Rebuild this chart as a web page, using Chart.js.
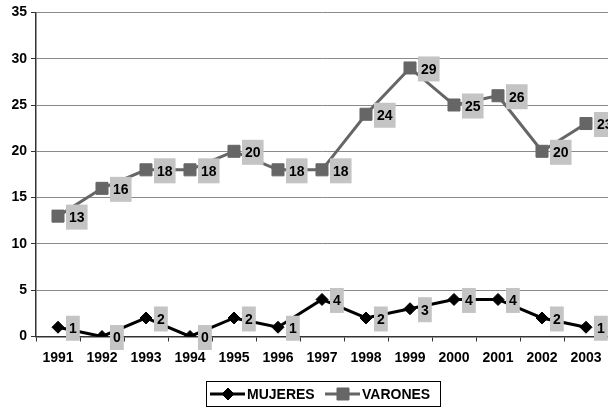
<!DOCTYPE html>
<html>
<head>
<meta charset="utf-8">
<script src="https://cdn.jsdelivr.net/npm/chart.js@4/dist/chart.umd.min.js"></script>
<style>
  html, body { margin: 0; padding: 0; background: #fff; }
  #wrap { width: 608px; height: 407px; }
</style>
</head>
<body>
<div id="wrap"><canvas id="c" width="608" height="407"></canvas></div>
<script>
const years = ['1991','1992','1993','1994','1995','1996','1997','1998','1999','2000','2001','2002','2003'];
const mujeres = [1, 0, 2, 0, 2, 1, 4, 2, 3, 4, 4, 2, 1];
const varones = [13, 16, 18, 18, 20, 18, 18, 24, 29, 25, 26, 20, 23];
const seriesNames = ['MUJERES', 'VARONES'];

const FONT = '"Liberation Sans", Arial, sans-serif';
const BLACK = '#000000';
const GREY = '#666666';
const LABEL_BG = '#c4c4c4';

// Value labels: grey box to the right of each marker, value in bold
const valueLabels = {
  id: 'valueLabels',
  afterDatasetsDraw(chart) {
    const ctx = chart.ctx;
    ctx.save();
    ctx.font = 'bold 14px ' + FONT;
    ctx.textBaseline = 'middle';
    ctx.textAlign = 'center';
    chart.data.datasets.forEach((ds, i) => {
      const meta = chart.getDatasetMeta(i);
      meta.data.forEach((pt, j) => {
        const txt = String(ds.data[j]);
        const w = ctx.measureText(txt).width + 6;
        const h = 25;
        const x0 = pt.x + 8;
        const y0 = pt.y - h / 2 + 1;
        ctx.fillStyle = LABEL_BG;
        ctx.fillRect(x0, y0, w, h);
        ctx.fillStyle = '#000';
        ctx.fillText(txt, x0 + w / 2, y0 + h / 2 + 1);
      });
    });
    ctx.restore();
  }
};

// Boxed legend below the axis: line segment with marker, then the series name
const boxedLegend = {
  id: 'boxedLegend',
  afterDraw(chart) {
    const ctx = chart.ctx;
    ctx.save();
    const top = 381.5, left = 206.5, width = 234, height = 25;
    ctx.strokeStyle = '#000';
    ctx.lineWidth = 1;
    ctx.strokeRect(left, top, width, height);
    const cy = top + height / 2;
    const items = [
      { x: 210, color: BLACK, style: 'rectRot', radius: 6, name: seriesNames[0] },
      { x: 325, color: GREY, style: 'rect', radius: 8.5, name: seriesNames[1] }
    ];
    ctx.font = 'bold 14px ' + FONT;
    ctx.textBaseline = 'middle';
    ctx.textAlign = 'left';
    items.forEach(it => {
      ctx.strokeStyle = it.color;
      ctx.lineWidth = 3;
      ctx.beginPath();
      ctx.moveTo(it.x, cy);
      ctx.lineTo(it.x + 35, cy);
      ctx.stroke();
      ctx.fillStyle = it.color;
      ctx.lineWidth = 1;
      Chart.helpers.drawPoint(ctx, { pointStyle: it.style, radius: it.radius, borderWidth: 1 }, it.x + 18, cy);
      ctx.fillStyle = '#000';
      ctx.fillText(it.name, it.x + 37, cy + 1);
    });
    ctx.restore();
  }
};

new Chart(document.getElementById('c'), {
  type: 'line',
  data: {
    labels: years,
    datasets: [
      {
        label: seriesNames[0],
        data: mujeres,
        borderColor: BLACK,
        backgroundColor: BLACK,
        borderWidth: 3,
        pointStyle: 'rectRot',
        pointRadius: 6,
        pointBorderWidth: 1,
        tension: 0
      },
      {
        label: seriesNames[1],
        data: varones,
        borderColor: GREY,
        backgroundColor: GREY,
        borderWidth: 3,
        pointStyle: 'rect',
        pointRadius: 8.5,
        pointBorderWidth: 1,
        tension: 0
      }
    ]
  },
  options: {
    responsive: false,
    animation: false,
    devicePixelRatio: 1,
    layout: { autoPadding: false, padding: { top: 12, right: -2, bottom: 0, left: 0 } },
    plugins: {
      legend: { display: false },
      tooltip: { enabled: false }
    },
    scales: {
      x: {
        offset: true,
        afterFit: s => { s.height = 70.5; s.paddingLeft = 0; s.paddingRight = 0; },
        grid: {
          offset: true,
          drawOnChartArea: false,
          drawTicks: true,
          tickLength: 5,
          color: '#333'
        },
        border: { color: '#333', width: 1.5 },
        ticks: {
          color: '#000',
          padding: 8,
          maxRotation: 0,
          autoSkip: false,
          font: { family: FONT, size: 14, weight: 'bold' }
        }
      },
      y: {
        min: 0,
        max: 35,
        afterFit: s => { s.width = 36; },
        grid: {
          color: ctx => ctx.tick && ctx.tick.value === 0 ? '#333' : '#8a8a8a',
          lineWidth: 1,
          tickLength: 5,
          tickColor: '#333'
        },
        border: { color: '#333', width: 1.5 },
        ticks: {
          stepSize: 5,
          color: '#000',
          padding: 4,
          font: { family: FONT, size: 14, weight: 'bold' }
        }
      }
    }
  },
  plugins: [valueLabels, boxedLegend]
});
</script>
</body>
</html>
